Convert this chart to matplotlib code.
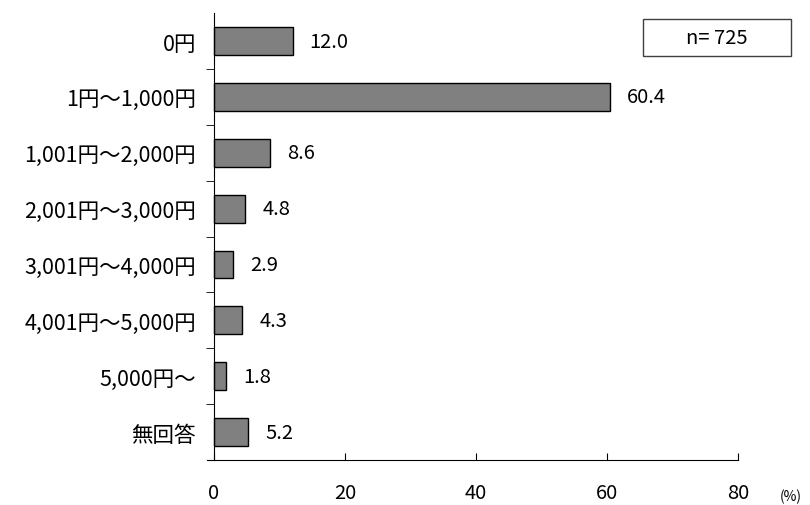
import matplotlib.pyplot as plt
import matplotlib.patches as patches

plt.rcParams['font.family'] = ['Noto Sans CJK JP', 'DejaVu Sans']

categories = ['0円', '1円～1,000円', '1,001円～2,000円', '2,001円～3,000円',
              '3,001円～4,000円', '4,001円～5,000円', '5,000円～', '無回答']
values = [12.0, 60.4, 8.6, 4.8, 2.9, 4.3, 1.8, 5.2]
n_label = 'n= 725'

fig = plt.figure(figsize=(8.1, 5.06), dpi=100)
ax = fig.add_axes([207 / 810, 0.089, 531 / 810, 0.883])

pos = list(range(len(categories)))
ax.barh(pos, values, height=0.5, color='#808080', edgecolor='black', linewidth=1)
for p, v in zip(pos, values):
    ax.text(v + 2.6, p, f'{v:.1f}', va='center', ha='left', fontsize=14.5)

ax.set_xlim(-1.07, 80)
ax.set_ylim(len(categories) - 0.5, -0.5)
ax.set_xticks([0, 20, 40, 60, 80])
ax.tick_params(axis='x', direction='in', length=5, pad=16, labelsize=14.5)

# labels at category centres, short ticks at the boundaries
ax.set_yticks(pos)
ax.set_yticklabels(categories)
ax.tick_params(axis='y', which='major', length=0, pad=13, labelsize=15.5)
ax.set_yticks([i + 0.5 for i in range(len(categories) - 1)], minor=True)
ax.tick_params(axis='y', which='minor', direction='out', length=6)

for s in ['top', 'right']:
    ax.spines[s].set_visible(False)
ax.spines['left'].set_position(('data', 0))

box = patches.Rectangle((643 / 810, 1 - 57 / 506), 148 / 810, 37 / 506,
                        transform=fig.transFigure, facecolor='white',
                        edgecolor='#404040', linewidth=1)
fig.add_artist(box)
fig.text(717 / 810, 1 - 38.5 / 506, n_label, ha='center', va='center', fontsize=14.5)
fig.text(780 / 810, 1 - 497 / 506, '(%)', ha='left', va='center', fontsize=10)

fig.savefig('out.png')
